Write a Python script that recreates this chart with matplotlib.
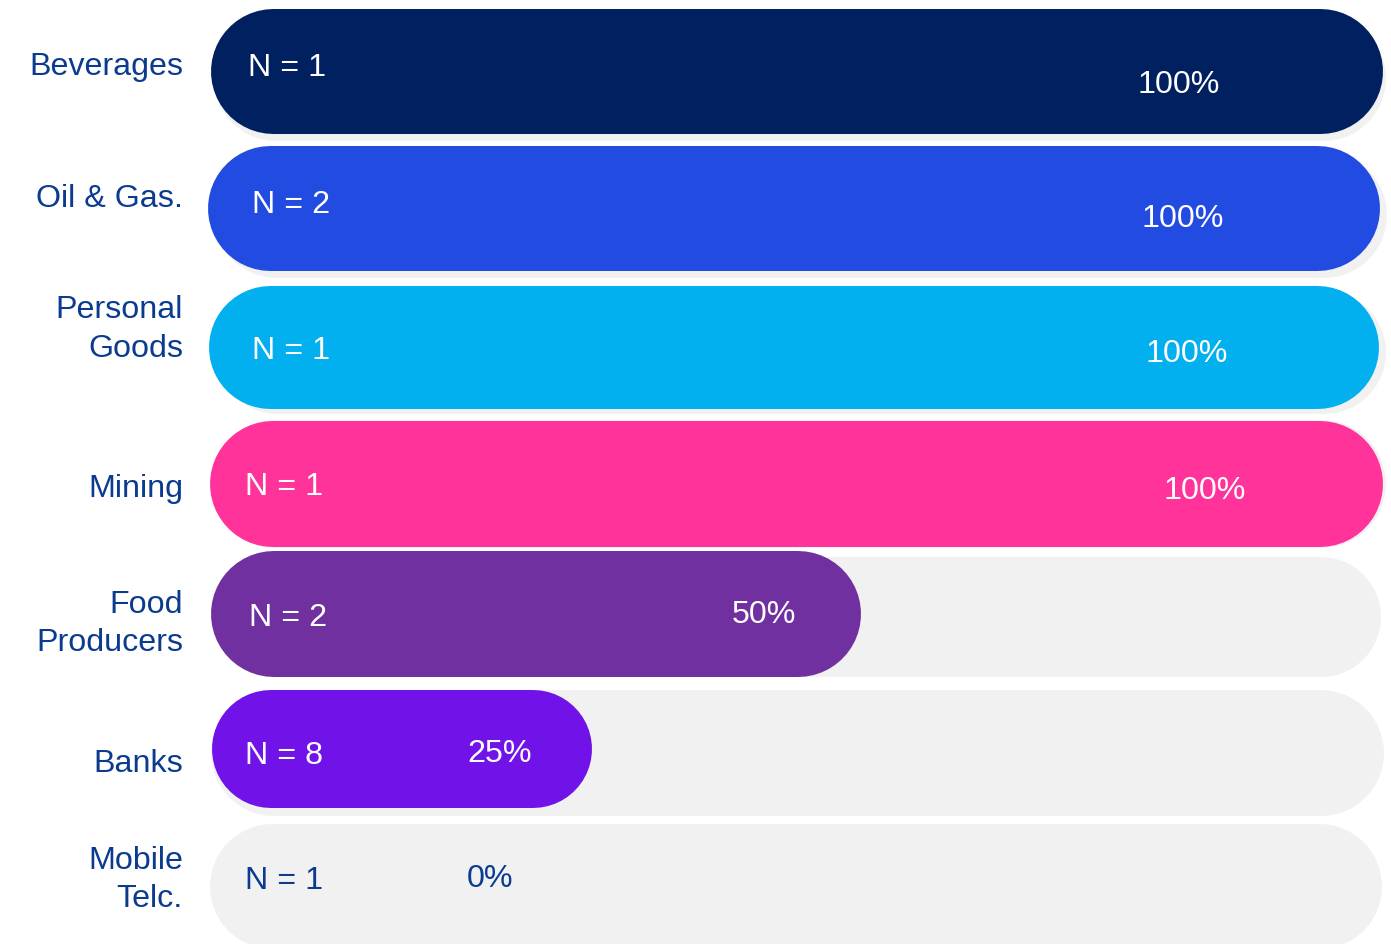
import matplotlib
matplotlib.use("Agg")
import matplotlib.pyplot as plt
from matplotlib import transforms

# ---- data -------------------------------------------------------------
categories = ["Beverages", "Oil & Gas.", "Personal\nGoods", "Mining",
              "Food\nProducers", "Banks", "Mobile\nTelc."]
shares = [100, 100, 100, 100, 50, 25, 0]          # percent
counts = [1, 2, 1, 1, 2, 8, 1]                    # N per sector

# ---- style ------------------------------------------------------------
bar_colors = ["#002060", "#224BE2", "#02B0EF", "#FF3399",
              "#7030A0", "#7112E8", "#F1F1F1"]
track_color = "#F1F1F1"
label_color = "#0B3B8F"
FONT = ["Liberation Sans", "DejaVu Sans"]
FS = 23.2

W, H, DPI = 1391, 944, 100

# per-row layout nudges (pixels)
bar_h = [125, 125, 123, 126, 126, 118, 0]
bar_dx = [0, -3, -3, 0, 1, -2, 0]
bar_dy = [0, 2, 4.5, 6, 0.5, -0.5, 0]
track_h = [125, 126, 123, 128, 120, 126, 125]
track_dx = [3, 4, 4, 2, 1, 1, -1]
track_dy = [7, 8.5, 9.5, 6.5, 3.5, 3.5, 0.5]

label_x = 183
label_cy = [63, 195, 326, 485, 620.5, 760, 876.5]
line_gap = 38.5
n_x = [248, 252, 252, 245, 249, 245, 245]
n_cy = [64, 201, 347, 483, 614, 752, 877]
pct_x = [1138, 1142, 1145, 1163, 732, 467, 467]
pct_cy = [81, 215, 350, 487, 611, 750, 875]

fig = plt.figure(figsize=(W / DPI, H / DPI), dpi=DPI)
ax = fig.add_axes([0, 0, 1, 1])
ax.axis("off")

# x axis in percent: 0 % at the start of the straight part of a pill,
# 100 % at its end; y axis in row units, top row first.
X0, X100 = 273.0, 1320.0
sx = (X100 - X0) / 100.0
ROW0, ROWSTEP = 70.5, 135.75
ax.set_xlim(-X0 / sx, (W - X0) / sx)
ax.set_ylim((H - ROW0) / ROWSTEP, -ROW0 / ROWSTEP)


def xpix(px):
    return (px - X0) / sx


def ypix(py):
    return (py - ROW0) / ROWSTEP


def pill(v0, v1, row, height_px, color, dx, dy, z):
    tr = transforms.offset_copy(ax.transData, fig=fig, x=dx, y=-dy,
                                units="dots")
    ax.plot([v0, v1], [row, row], transform=tr, color=color,
            lw=height_px * 72.0 / DPI, solid_capstyle="round", zorder=z)


cap_half = 11.6  # half cap height in pixels, to centre caps on a line

for i, (cat, v, n) in enumerate(zip(categories, shares, counts)):
    # background track
    pill(0, 100, i, track_h[i], track_color, track_dx[i], track_dy[i], 1)
    # value bar
    if v > 0:
        pill(0, v, i, bar_h[i], bar_colors[i], bar_dx[i], bar_dy[i], 2)

    txt_color = "white" if v > 0 else label_color

    # category name, one line per text row
    lines = cat.split("\n")
    first = label_cy[i] - line_gap * (len(lines) - 1) / 2
    for k, line in enumerate(lines):
        ax.text(xpix(label_x), ypix(first + k * line_gap + cap_half), line,
                ha="right", va="baseline", fontsize=FS, family=FONT,
                color=label_color, zorder=3)

    ax.text(xpix(n_x[i]), ypix(n_cy[i] + cap_half), f"N = {n}",
            ha="left", va="baseline", fontsize=FS, family=FONT,
            color=txt_color, zorder=3)
    ax.text(xpix(pct_x[i]), ypix(pct_cy[i] + cap_half), f"{v}%",
            ha="left", va="baseline", fontsize=FS, family=FONT,
            color=txt_color, zorder=3)

fig.savefig("out.png", dpi=DPI)
